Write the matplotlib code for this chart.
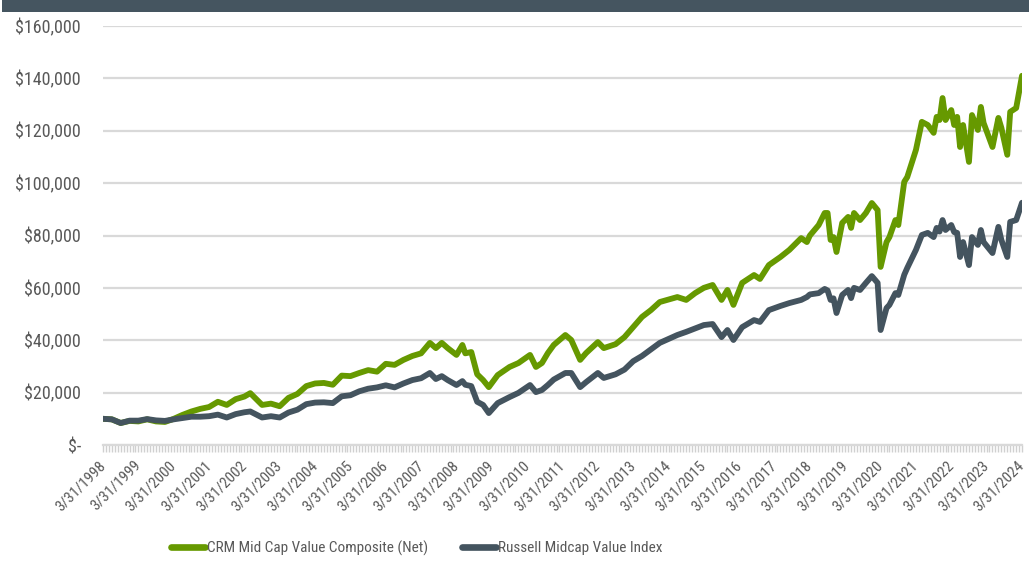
import matplotlib
matplotlib.use("Agg")
import matplotlib.pyplot as plt
import matplotlib.dates as mdates
from matplotlib import font_manager as fm
from matplotlib.ticker import FuncFormatter
from matplotlib.patches import Rectangle
import pandas as pd

dates = [
    "1998-03", "1998-06", "1998-09", "1998-12", "1999-03", "1999-06", "1999-09", "1999-12",
    "2000-03", "2000-06", "2000-09", "2000-12", "2001-03", "2001-06", "2001-09", "2001-12",
    "2002-03", "2002-05", "2002-09", "2002-12", "2003-03", "2003-06", "2003-09", "2003-12",
    "2004-03", "2004-06", "2004-09", "2004-12", "2005-03", "2005-06", "2005-09", "2005-12",
    "2006-03", "2006-06", "2006-09", "2006-12", "2007-03", "2007-06", "2007-08", "2007-10",
    "2007-12", "2008-03", "2008-05", "2008-06", "2008-08", "2008-10", "2008-12", "2009-02",
    "2009-05", "2009-09", "2009-12", "2010-04", "2010-06", "2010-08", "2010-10", "2010-12",
    "2011-04", "2011-06", "2011-09", "2011-11", "2012-03", "2012-05", "2012-09", "2012-12",
    "2013-03", "2013-06", "2013-09", "2013-12", "2014-06", "2014-09", "2014-12", "2015-03",
    "2015-06", "2015-09", "2015-11", "2016-01", "2016-04", "2016-08", "2016-10", "2017-01",
    "2017-05", "2017-08", "2017-12", "2018-02", "2018-03", "2018-06", "2018-08", "2018-09",
    "2018-10", "2018-11", "2018-12", "2019-02", "2019-04", "2019-05", "2019-06", "2019-08",
    "2019-10", "2019-12", "2020-02", "2020-03", "2020-05", "2020-06", "2020-08", "2020-09",
    "2020-11", "2020-12", "2021-03", "2021-05", "2021-07", "2021-09", "2021-10", "2021-11",
    "2021-12", "2022-01", "2022-03", "2022-04", "2022-05", "2022-06", "2022-07", "2022-09",
    "2022-10", "2022-12", "2023-01", "2023-02", "2023-05", "2023-07", "2023-08", "2023-10",
    "2023-11", "2024-01", "2024-03",
]

crm = [
    10.0, 9.8, 8.4, 9.2, 9.0, 9.8, 9.0, 8.8,
    10.0, 11.5, 12.8, 13.8, 14.5, 16.5, 15.3, 17.5,
    18.5, 19.8, 15.3, 15.8, 14.8, 18.0, 19.5, 22.5,
    23.5, 23.7, 23.0, 26.5, 26.3, 27.5, 28.6, 28.0,
    31.0, 30.6, 32.5, 34.0, 35.0, 39.0, 37.0, 39.0,
    37.0, 34.4, 38.2, 35.0, 35.5, 27.0, 24.8, 22.1,
    26.7, 29.8, 31.3, 34.4, 29.8, 31.3, 35.1, 38.2,
    42.0, 40.1, 32.5, 35.1, 39.3, 37.0, 38.5, 41.2,
    45.0, 48.9, 51.5, 54.6, 56.5, 55.4, 58.0, 60.0,
    61.1, 55.4, 59.2, 53.5, 61.9, 64.9, 63.4, 68.7,
    71.8, 74.5, 79.0, 77.5, 80.0, 84.0, 88.6, 88.6,
    78.3, 79.4, 73.7, 84.8, 87.1, 82.9, 88.6, 85.9,
    88.6, 92.4, 89.7, 68.0, 77.5, 79.4, 85.9, 84.0,
    100.5, 102.3, 112.7, 123.4, 122.2, 119.2, 125.3, 124.1,
    132.5, 124.1, 127.9, 122.2, 125.3, 113.8, 122.2, 108.1,
    126.0, 120.3, 129.1, 123.0, 113.8, 124.9, 121.1, 110.8,
    127.2, 128.7, 141.0,
]

russell = [
    10.0, 9.8, 8.4, 9.3, 9.3, 9.9, 9.4, 9.2,
    9.8, 10.3, 10.8, 10.8, 11.0, 11.6, 10.5, 11.8,
    12.5, 12.8, 10.5, 11.0, 10.5, 12.4, 13.5, 15.6,
    16.2, 16.3, 16.0, 18.6, 19.0, 20.5, 21.5, 22.0,
    22.8, 22.0, 23.5, 24.8, 25.5, 27.5, 25.2, 26.3,
    24.8, 22.9, 24.4, 23.0, 22.5, 16.5, 15.3, 12.2,
    16.0, 18.3, 19.9, 22.9, 20.2, 21.0, 22.9, 25.0,
    27.5, 27.5, 22.1, 24.0, 27.5, 25.6, 27.0, 28.8,
    32.0, 34.0, 36.5, 39.0, 42.0, 43.2, 44.5, 45.8,
    46.2, 41.2, 43.9, 40.1, 45.0, 47.7, 47.0, 51.5,
    53.1, 54.2, 55.4, 56.5, 57.5, 58.0, 59.6, 59.0,
    55.4, 56.0, 50.4, 57.3, 59.2, 56.1, 60.0, 59.2,
    61.9, 64.5, 61.9, 43.9, 52.3, 53.5, 58.0, 57.3,
    65.0, 67.6, 74.5, 80.2, 81.0, 79.4, 82.9, 81.5,
    85.9, 82.1, 84.0, 81.3, 81.0, 71.8, 77.5, 68.7,
    79.4, 76.4, 82.1, 77.5, 73.3, 83.3, 78.3, 71.8,
    85.2, 85.9, 92.5,
]

series_names = ["CRM Mid Cap Value Composite (Net)", "Russell Midcap Value Index"]
y_ticks = [0, 20000, 40000, 60000, 80000, 100000, 120000, 140000, 160000]
tick_years = list(range(1998, 2025))

GREEN = "#669900"
SLATE = "#44545f"
GRID = "#d9d9d9"
TEXT = "#595959"

# find a narrow / condensed font if one is installed
all_files = fm.findSystemFonts() + fm.findSystemFonts(fontext='otf')
names = [(f.split("/")[-1].lower().replace(" ", "").replace("_", "").replace("-", ""), f)
         for f in all_files]
prefs = ["liberationsansnarrowregular", "notosansextracondensedregular", "notosansextracondensed.",
         "robotocondensedregular", "opensanscondensedregular", "notosanscondensedregular",
         "notosanscondensed.", "dejavusanscondensed."]
cand_path = None
for p in prefs:
    for n, f in names:
        if n.startswith(p):
            cand_path = f
            break
    if cand_path:
        break
if cand_path is None:
    for n, f in names:
        if ("narrow" in n or "condensed" in n) and not any(
                b in n for b in ["bold", "italic", "oblique", "light", "semi", "thin", "black",
                                 "medium", "extrabold"]):
            cand_path = f
            break

if cand_path:
    fm.fontManager.addfont(cand_path)
    fam = fm.FontProperties(fname=cand_path).get_name()
    plt.rcParams['font.family'] = [fam, 'DejaVu Sans']
    if "dejavu" in cand_path.lower():
        plt.rcParams['font.stretch'] = 'condensed'
    narrow = "narrow" in cand_path.lower() or "extracondensed" in cand_path.lower().replace("-", "")
else:
    plt.rcParams['font.family'] = ['DejaVu Sans']
    narrow = False

ytick_fs = 15 if narrow else 13
xtick_fs = 12 if narrow else 11
leg_fs = 13 if narrow else 11

x = pd.to_datetime(dates, format="%Y-%m") + pd.offsets.MonthEnd(0)

fig = plt.figure(figsize=(10.29, 5.71), dpi=100)
ax = fig.add_axes([103/1029, 1-445/571, (1022-103)/1029, (445-26)/571])

ax.plot(x, [v*1000 for v in crm], color=GREEN, lw=4.2, solid_joinstyle='round',
        solid_capstyle='round', label=series_names[0], zorder=3)
ax.plot(x, [v*1000 for v in russell], color=SLATE, lw=4.2, solid_joinstyle='round',
        solid_capstyle='round', label=series_names[1], zorder=4)

ax.set_ylim(0, 160000)
ax.set_xlim(pd.Timestamp("1998-03-31"), pd.Timestamp("2024-03-31"))
ax.set_yticks(y_ticks)
ax.yaxis.set_major_formatter(FuncFormatter(lambda v, p: "$-" if v == 0 else f"${v:,.0f}"))
ax.grid(axis='y', color=GRID, lw=1.6, zorder=0)
ax.set_axisbelow(True)

major = [pd.Timestamp(f"{y}-03-31") for y in tick_years]
ax.set_xticks(major)
ax.set_xticklabels([f"3/31/{y}" for y in tick_years], rotation=45, ha='right',
                   va='center', rotation_mode='anchor', fontsize=xtick_fs, color=TEXT)
ax.xaxis.set_minor_locator(mdates.MonthLocator(bymonthday=-1))
ax.tick_params(axis='x', which='both', direction='out', length=5, width=1,
               color="#d0d0d0", pad=8)
ax.tick_params(axis='y', length=0, pad=16, labelsize=ytick_fs, labelcolor=TEXT)

for s in ['top', 'right', 'left']:
    ax.spines[s].set_visible(False)
ax.spines['bottom'].set_color(GRID)
ax.spines['bottom'].set_linewidth(1.6)

fig.patches.append(Rectangle((2/1029, 1-12/571), 1, 12/571, transform=fig.transFigure,
                             facecolor="#455560", edgecolor='none', zorder=0))

leg = fig.legend(loc='center', bbox_to_anchor=(417/1029, 1-548/571), ncol=2, frameon=False,
                 fontsize=leg_fs, handlelength=2.2, handletextpad=0.15, columnspacing=2.2,
                 labelcolor=TEXT)
for h in leg.get_lines():
    h.set_linewidth(4.8)
    h.set_solid_capstyle('round')

fig.savefig("out.png", dpi=100)
